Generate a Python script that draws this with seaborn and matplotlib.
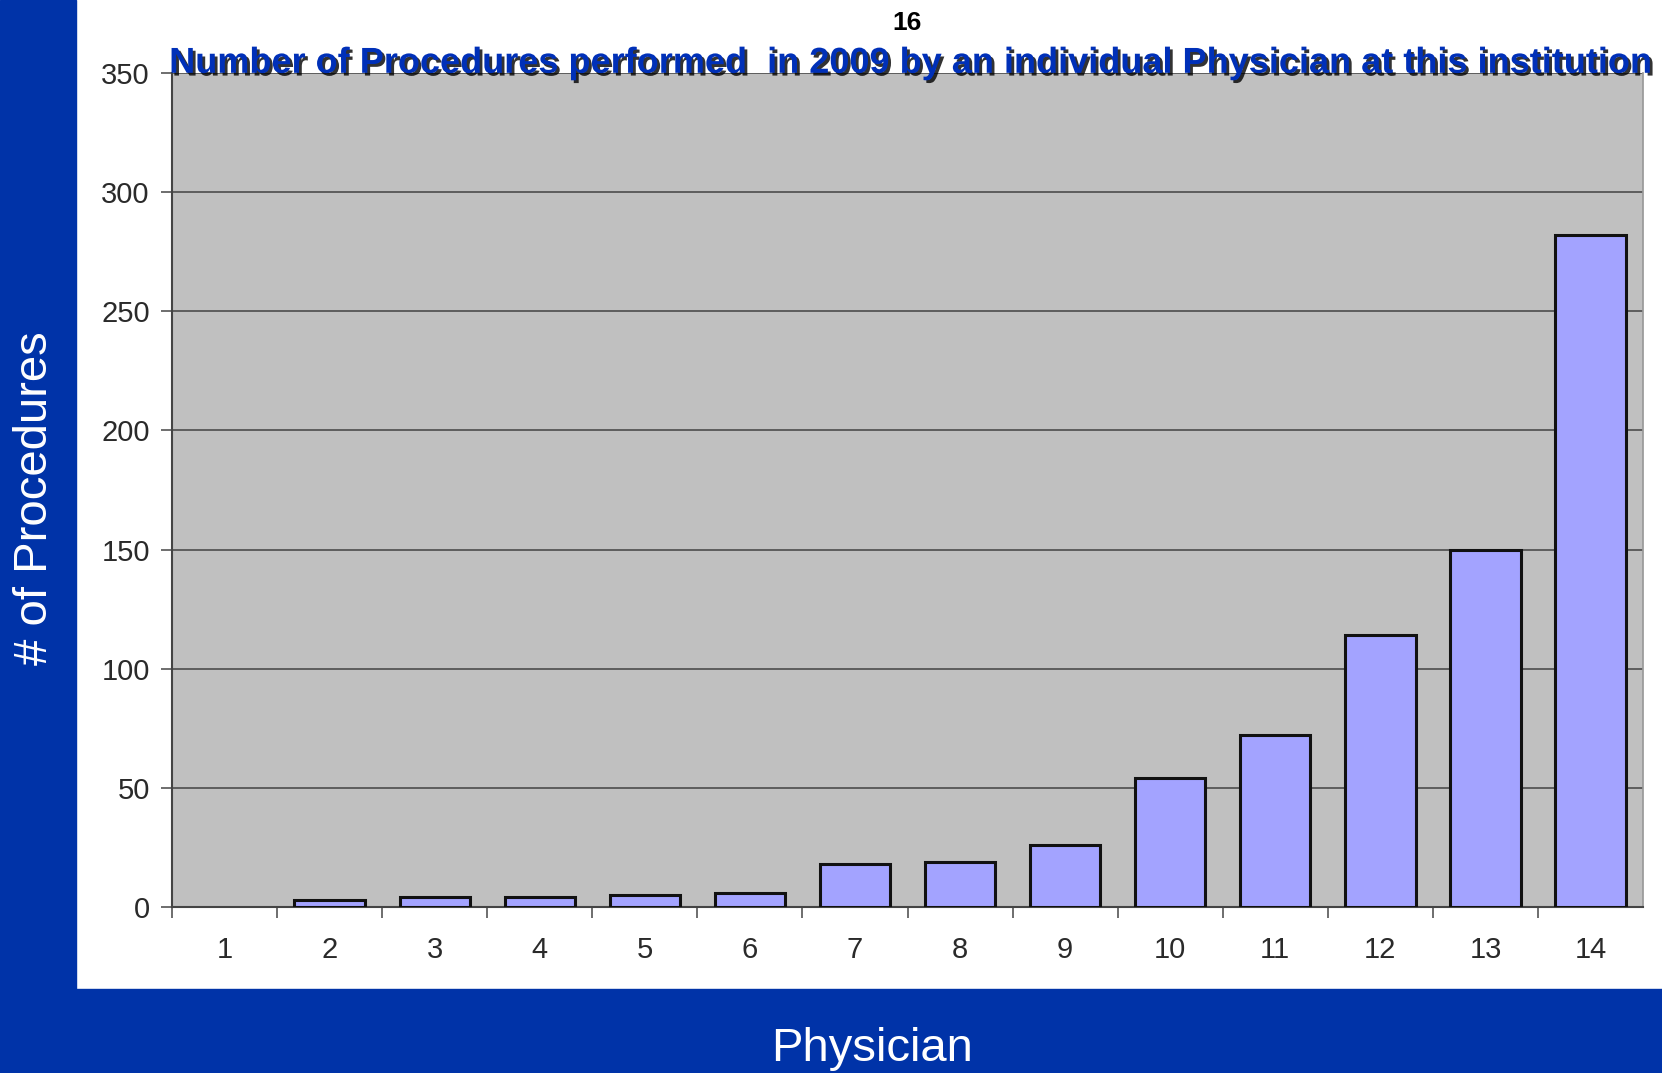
import matplotlib
matplotlib.use('Agg')
import matplotlib.pyplot as plt
import matplotlib.patheffects as pe
from matplotlib.patches import Rectangle
import seaborn as sns
import pandas as pd
import numpy as np

# data
physicians = ['1','2','3','4','5','6','7','8','9','10','11','12','13','14']
procedures = [0, 3, 4, 4, 5, 6, 18, 19, 26, 54, 72, 114, 150, 282]
y_ticks = [0, 50, 100, 150, 200, 250, 300, 350]

df = pd.DataFrame({'Physician': physicians, 'Procedures': procedures})

sns.set_theme(style='white')
plt.rcParams['font.family'] = ['Liberation Sans', 'DejaVu Sans']

blue = '#0033A8'
fig = plt.figure(figsize=(16.62, 10.73), dpi=100)
fig.patch.set_facecolor('white')
# blue frame bands of the slide
fig.patches.append(Rectangle((0, 0), 0.0457, 1, transform=fig.transFigure, color=blue, zorder=0))
fig.patches.append(Rectangle((0, 0), 1, 0.078, transform=fig.transFigure, color=blue, zorder=0))

ax = fig.add_axes([0.1035, 0.1547, 0.8851, 0.7773])
ax.set_facecolor('#C0C0C0')
sns.barplot(data=df, x='Physician', y='Procedures', ax=ax, color='#A3A3FF',
            edgecolor='#111111', linewidth=2.2, width=0.67, saturation=1, zorder=3)
# hide the outline of empty bars
for p in ax.patches:
    if p.get_height() == 0:
        p.set_visible(False)

ax.set_ylim(0, 350)
ax.set_xlim(-0.5, len(physicians) - 0.5)
ax.set_yticks(y_ticks)
ax.yaxis.grid(True, color='#555555', linewidth=1.3, zorder=1)
ax.set_axisbelow(True)

# ticks between categories on x
ax.set_xticks(np.arange(len(physicians)) - 0.5, minor=True)
ax.tick_params(axis='x', which='major', length=0, pad=21, labelsize=21, labelcolor='#2a2a2a')
ax.tick_params(axis='x', which='minor', length=8, width=1.2, color='#555555', bottom=True)
ax.tick_params(axis='y', which='major', length=8, width=1.2, color='#555555', left=True,
               labelsize=21, labelcolor='#2a2a2a', pad=8)

for s in ['left', 'bottom']:
    ax.spines[s].set_color('#444444')
    ax.spines[s].set_linewidth(1.5)
ax.spines['right'].set_color('#999999')
ax.spines['top'].set_visible(False)

ax.set_xlabel('')
ax.set_ylabel('')
fig.text(0.021, 0.536, '# of Procedures', rotation=90, color='white', fontsize=34,
         ha='center', va='center')
fig.text(0.525, 0.022, 'Physician', color='white', fontsize=34, ha='center', va='center')

fig.text(0.546, 0.979, '16', color='black', fontsize=19, fontweight='bold', ha='center', va='center')
fig.text(0.548, 0.941, 'Number of Procedures performed  in 2009 by an individual Physician at this institution',
         color='#0030B8', fontsize=26, fontweight='bold', ha='center', va='center',
         path_effects=[pe.withSimplePatchShadow(offset=(2, -2), shadow_rgbFace='black', alpha=0.8)])

fig.savefig('out.png', dpi=100)
